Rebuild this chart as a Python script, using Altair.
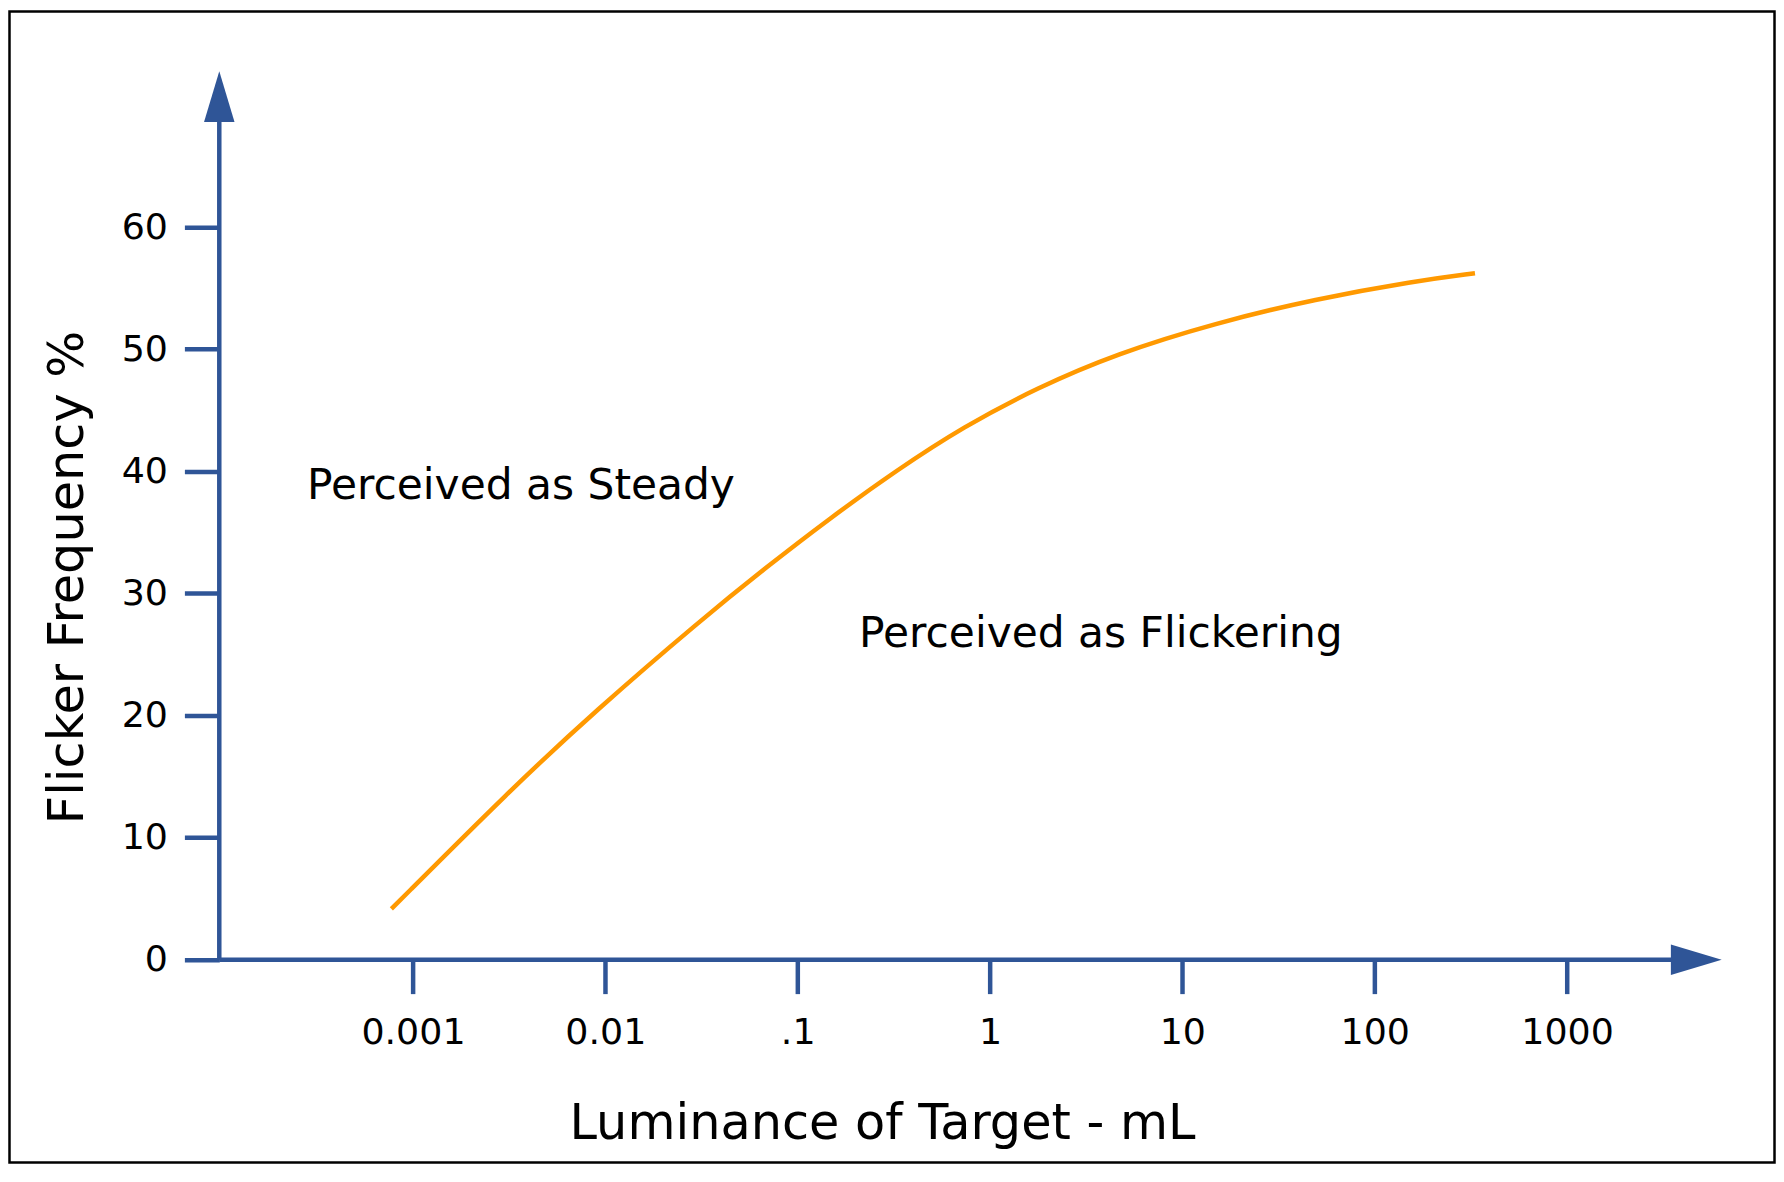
import altair as alt
import pandas as pd

# ---- data ----
luminance = [0.000772, 0.003243, 0.00884, 0.03126, 0.0672, 0.1476, 0.328,
             0.730, 1.742, 4.53, 14.9, 49.2, 162, 332]
flicker = [4.16, 13.98, 20.36, 27.80, 32.03, 36.18, 40.11, 43.67, 46.82,
           49.63, 52.16, 54.12, 55.59, 56.23]

x_ticks = [0.001, 0.01, 0.1, 1, 10, 100, 1000]
x_tick_labels = ["0.001", "0.01", ".1", "1", "10", "100", "1000"]
y_ticks = [0, 10, 20, 30, 40, 50, 60]

note_text = ["Perceived as Steady", "Perceived as Flickering"]
note_x = [0.000281, 0.2084]
note_y = [37.71, 25.63]

# ---- styling ----
BLUE = "#2F5597"
ORANGE = "#FF9900"
FONT = "DejaVu Sans"
W, H = 1506, 891

curve = pd.DataFrame({"x": luminance, "y": flicker})
notes = pd.DataFrame({"x": note_x, "y": note_y, "t": note_text})
one = pd.DataFrame({"d": [0]})

label_expr = "[" + ",".join(f"'{s}'" for s in x_tick_labels) + "][round(log(datum.value)/LN10)+3]"

x_scale = alt.Scale(type="log", domain=[10 ** -4.007, 10 ** 3.796], nice=False)
y_scale = alt.Scale(domain=[0, 72.73], nice=False, zero=False)

x_axis = alt.Axis(
    values=x_ticks, labelExpr=label_expr, title="Luminance of Target - mL",
    domain=False, grid=False, tickSize=34, tickWidth=4.5, tickColor=BLUE,
    labelFont=FONT, labelFontSize=36.5, labelColor="black", labelPadding=21,
    labelFlush=False, labelOverlap=False,
    titleFont=FONT, titleFontSize=49.5, titleFontWeight="normal", titleColor="black",
    titleX=665, titleY=179, titleAlign="center", titleBaseline="alphabetic",
)
y_axis = alt.Axis(
    values=y_ticks, title="Flicker Frequency %",
    domain=False, grid=False, tickSize=35, tickWidth=4.5, tickColor=BLUE,
    labelFont=FONT, labelFontSize=36.5, labelColor="black", labelPadding=17,
    labelOverlap=False,
    titleFont=FONT, titleFontSize=49.5, titleFontWeight="normal", titleColor="black",
    titleAngle=-90, titleX=-137, titleY=507, titleAlign="center",
    titleBaseline="alphabetic",
)

X = alt.X("x:Q", scale=x_scale, axis=x_axis)
Y = alt.Y("y:Q", scale=y_scale, axis=y_axis)

border = alt.Chart(one).mark_rect(fillOpacity=0, stroke="black", strokeWidth=2.5).encode(
    x=alt.value(-210.5), x2=alt.value(1560.5), y=alt.value(-60.5), y2=alt.value(1094.5)
)
y_line = alt.Chart(one).mark_rule(color=BLUE, strokeWidth=4.5).encode(
    x=alt.value(0), y=alt.value(H), y2=alt.value(48)
)
x_line = alt.Chart(one).mark_rule(color=BLUE, strokeWidth=4.5).encode(
    x=alt.value(0), x2=alt.value(1459), y=alt.value(H)
)
up_arrow = alt.Chart(one).mark_point(
    shape="M 0 -1 L 0.6 1 L -0.6 1 Z", size=2600, filled=True, color=BLUE, opacity=1
).encode(x=alt.value(0), y=alt.value(25))
right_arrow = alt.Chart(one).mark_point(
    shape="M 1 0 L -1 0.6 L -1 -0.6 Z", size=2600, filled=True, color=BLUE, opacity=1
).encode(x=alt.value(1482), y=alt.value(H))

line = alt.Chart(curve).mark_line(
    color=ORANGE, strokeWidth=4.5, interpolate="basis"
).encode(x=X, y=Y)

text = alt.Chart(notes).mark_text(
    font=FONT, fontSize=42.5, color="black", align="left", baseline="alphabetic"
).encode(x=X, y=Y, text="t:N")

chart = alt.layer(border, line, y_line, x_line, up_arrow, right_arrow, text).properties(
    width=W, height=H,
    autosize=alt.AutoSizeParams(type="none"),
    padding={"left": 212, "top": 62, "right": 56, "bottom": 205},
    background="white",
).configure_view(strokeWidth=0)

chart.save("out.html", embed_options={"renderer": "svg", "actions": False})
